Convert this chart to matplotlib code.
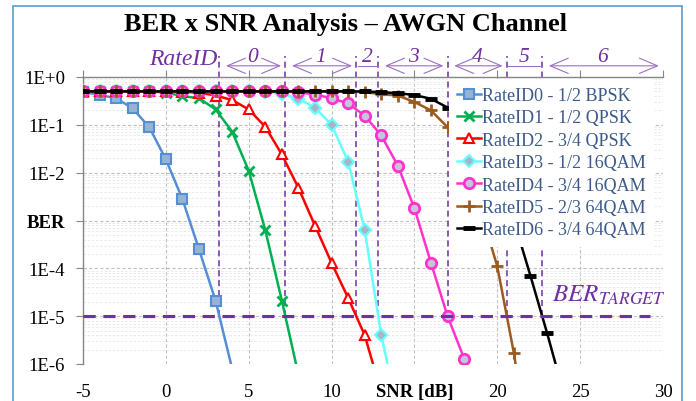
import numpy as np
import matplotlib.pyplot as plt
from matplotlib import transforms
from matplotlib.patches import Rectangle

plt.rcParams['font.family'] = ['Liberation Serif', 'DejaVu Serif']
plt.rcParams['mathtext.fontset'] = 'stix'

# SNR axis (dB), every series starts at -5 dB
snr = np.arange(-5, 31)

series_names = ['RateID0 - 1/2 BPSK', 'RateID1 - 1/2 QPSK', 'RateID2 - 3/4 QPSK',
                'RateID3 - 1/2 16QAM', 'RateID4 - 3/4 16QAM', 'RateID5 - 2/3 64QAM',
                'RateID6 - 3/4 64QAM']

ber_rate0 = [0.49, 0.42, 0.36, 0.22, 0.089, 0.019, 2.8e-3, 2.5e-4, 2.1e-5, 8e-7]
ber_rate1 = [0.5, 0.5, 0.5, 0.5, 0.5, 0.47, 0.4, 0.36, 0.21, 0.072, 0.011, 6.3e-4,
             2.1e-5, 6e-7]
ber_rate2 = [0.5, 0.5, 0.5, 0.5, 0.5, 0.5, 0.49, 0.47, 0.41, 0.33, 0.21, 0.091,
             0.024, 4.8e-3, 7.8e-4, 1.3e-4, 2.4e-5, 4e-6, 2.5e-7]
ber_rate3 = [0.5, 0.5, 0.5, 0.5, 0.5, 0.5, 0.5, 0.5, 0.5, 0.5, 0.5, 0.49, 0.45,
             0.35, 0.23, 0.1, 0.017, 6.3e-4, 4e-6, 1e-7]
ber_rate4 = [0.5, 0.5, 0.5, 0.5, 0.5, 0.5, 0.5, 0.5, 0.5, 0.5, 0.5, 0.5, 0.5,
             0.48, 0.43, 0.36, 0.28, 0.155, 0.06, 0.014, 1.8e-3, 1.3e-4, 1e-5,
             1.3e-6, 5e-8]
ber_rate5 = [0.5, 0.5, 0.5, 0.5, 0.5, 0.5, 0.5, 0.5, 0.5, 0.5, 0.5, 0.5, 0.5,
             0.5, 0.5, 0.5, 0.5, 0.48, 0.44, 0.41, 0.3, 0.2, 0.089, 0.016, 1.6e-3,
             1.1e-4, 1.7e-6, 1e-8]
ber_rate6 = [0.5, 0.5, 0.5, 0.5, 0.5, 0.5, 0.5, 0.5, 0.5, 0.5, 0.5, 0.5, 0.5,
             0.5, 0.5, 0.5, 0.5, 0.5, 0.48, 0.46, 0.42, 0.35, 0.23, 0.12, 0.05,
             0.012, 1e-3, 7e-5, 4.5e-6, 2.5e-7]
all_ber = [ber_rate0, ber_rate1, ber_rate2, ber_rate3, ber_rate4, ber_rate5, ber_rate6]

ber_target = 1e-5
snr_max = 30

x_ticks = [-5, 0, 5, 10, 15, 20, 25, 30]
x_ticklabels = ['-5', '0', '5', '10', 'SNR [dB]', '20', '25', '30']
y_ticks = [1e0, 1e-1, 1e-2, 1e-3, 1e-4, 1e-5, 1e-6]
y_ticklabels = ['1E+0', '1E-1', '1E-2', 'BER', '1E-4', '1E-5', '1E-6']

# estilos
line_colors = ['#558ED5', '#00B050', '#FF0000', '#66FFFF', '#FF33CC', '#9C5A1F', '#000000']
face_colors = ['#95B3D7', '#00B050', 'white', '#A9B4C8', '#C8C4DC', '#9C5A1F', '#000000']
markers = ['s', 'x', '^', 'D', 'o', '+', '_']
msizes = [6.5, 7, 7, 6, 7.5, 9, 9]
mews = [1.5, 2, 1.5, 1.5, 2, 2, 3.5]
purple = '#7030A0'
arrow_purple = '#9B6FC4'

fig = plt.figure(figsize=(6.96, 4.02), dpi=100)
ax = fig.add_axes([83 / 696, 1 - 365 / 402, 580 / 696, 287 / 402])

for i, ber in enumerate(all_ber):
    x = snr[:len(ber)]
    visible = [b >= 1e-6 for b in ber]
    ax.plot(x, ber, color=line_colors[i], lw=1.8, marker=markers[i],
            ms=msizes[i], mew=mews[i], mec=line_colors[i], mfc=face_colors[i],
            markevery=visible, label=series_names[i], zorder=3 + i)

ax.set_yscale('log')
ax.set_xlim(-5, snr_max)
ax.set_ylim(1e-6, 1)

ax.set_xticks(x_ticks)
ax.set_xticklabels(x_ticklabels)
ax.set_yticks(y_ticks)
ax.set_yticklabels(y_ticklabels)
ax.yaxis.set_minor_locator(plt.LogLocator(subs=np.arange(2, 10)))
ax.yaxis.set_minor_formatter(plt.NullFormatter())

for lbl in ax.get_xticklabels() + ax.get_yticklabels():
    lbl.set_fontsize(13.5)
    if lbl.get_text() in ('SNR [dB]', 'BER'):
        lbl.set_fontweight('bold')

ax.xaxis.set_ticks_position('top')
ax.tick_params(axis='x', which='major', top=True, bottom=False, labeltop=False,
               labelbottom=True, direction='out', length=5, color='#868686', pad=9)
ax.tick_params(axis='y', which='major', direction='out', length=5, color='#868686', pad=8)
ax.tick_params(axis='y', which='minor', length=0)

for s in ['right', 'bottom']:
    ax.spines[s].set_visible(False)
for s in ['top', 'left']:
    ax.spines[s].set_color('#868686')
    ax.spines[s].set_linewidth(1.0)

ax.grid(True, which='major', axis='both', color='#C0C0C0', lw=0.8, ls=(0, (3, 2)))
ax.grid(True, which='minor', axis='y', color='#E8E8E8', lw=0.6, ls=(0, (3, 2)))
ax.set_axisbelow(True)


# cruce de cada curva con el BER objetivo (interpolado en log)
def target_crossing(ber):
    lb = np.log10(ber)
    x = snr[:len(ber)]
    j = np.argmax(lb <= np.log10(ber_target))
    t = (np.log10(ber_target) - lb[j - 1]) / (lb[j] - lb[j - 1])
    return x[j - 1] + t * (x[j] - x[j - 1])


thresholds = [target_crossing(b) for b in all_ber]

ax.hlines(ber_target, snr[0], 29.2, colors=purple, lw=2.2, linestyles=(0, (4, 2.5)), zorder=12)

# lineas verticales hasta arriba del grafico
y_top = 10 ** (0.072 * 6)
ax.vlines(thresholds, ber_target, y_top, colors=purple, lw=1.1,
          linestyles=(0, (4, 2.5)), clip_on=False, zorder=2)

trans = transforms.blended_transform_factory(ax.transData, ax.transAxes)
zone_edges = thresholds + [snr_max]
for i in range(len(thresholds)):
    lo, hi = zone_edges[i], zone_edges[i + 1]
    mid = (lo + hi) / 2
    ax.text(mid, 1.072, str(i), transform=trans, ha='center', va='center',
            fontsize=15.5, style='italic', color=purple)
    if hi - lo > 3:
        ax.annotate('', xy=(hi - 0.25, 1.039), xytext=(lo + 0.4, 1.039),
                    xycoords=trans, textcoords=trans,
                    arrowprops=dict(arrowstyle='<->, head_length=1.3, head_width=0.55',
                                    color=arrow_purple, lw=0.8, shrinkA=0, shrinkB=0))
    else:
        ax.plot([lo + 0.1, hi - 0.1], [1.039, 1.039], transform=trans, color=arrow_purple,
                lw=0.8, clip_on=False)

ax.text(thresholds[0] - 0.1, 1.065, 'RateID', transform=trans, ha='right', va='center',
        fontsize=17, style='italic', color=purple)

ax.text(23.3, 2.9e-5, r'$\mathit{BER}_{\mathit{TARGET}}$', ha='left', va='center',
        fontsize=18, color=purple, zorder=13)

leg = ax.legend(loc='upper left', bbox_to_anchor=(0.628, 1.0), borderaxespad=0.1,
                fontsize=13, frameon=True, handlelength=1.3, handletextpad=0.1,
                labelspacing=0.3, borderpad=0.45, labelcolor='#3C5A8A')
leg.get_frame().set_facecolor('white')
leg.get_frame().set_edgecolor('none')
leg.get_frame().set_alpha(1)
leg.set_zorder(20)

fig.text(0.497, 1 - 25 / 402, 'BER x SNR Analysis \u2013 AWGN Channel', ha='center', va='center',
         fontsize=19, fontweight='bold')

fig.add_artist(Rectangle((13 / 696, -0.1), 669 / 696, 1.1 - 7 / 402, fill=False,
                         edgecolor='#5B9BD5', lw=1.2, transform=fig.transFigure))

fig.savefig('out.png', dpi=100)
